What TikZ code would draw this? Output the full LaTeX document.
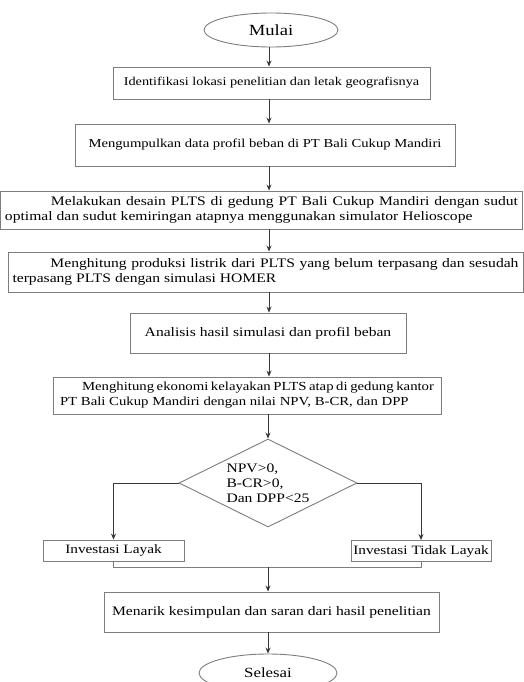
\documentclass[tikz,border=0pt]{standalone}
\usepackage{fontspec}
\setmainfont{Liberation Serif}[FakeStretch=1.2]
\usetikzlibrary{positioning}
\usetikzlibrary{arrows.meta}
\usetikzlibrary{shapes.geometric}
\definecolor{boxgray}{RGB}{125,125,125}
\definecolor{linegray}{RGB}{55,55,55}

\tikzset{
  stepbox/.style={draw=boxgray, line width=0.9pt, rectangle, inner sep=0pt},
  terminal/.style={draw=boxgray, line width=0.9pt, ellipse, inner sep=0pt},
  decision/.style={draw=boxgray, line width=0.9pt, diamond, shape aspect=2, inner sep=-3pt},
  arr/.style={draw=linegray, line width=0.9pt, -{Stealth[length=6pt,width=5pt]}},
  link/.style={draw=boxgray, line width=0.9pt},
  fsize/.style={font=\fontsize{#1}{15}\selectfont},
}

\begin{document}
\begin{tikzpicture}[x=1pt, y=-1pt, fsize=13]
    \useasboundingbox (0,0) rectangle (524,682);
    % column of the main arrows
    \coordinate (ax) at (269,0);

    % Start
    \node[terminal, fsize=15.5, minimum width=134pt, minimum height=34pt] (mulai) at (271,30) {Mulai};

    % Steps
    \node[stepbox, fsize=11.9, minimum width=317pt, minimum height=32pt] (s1) at (271.5,83)
        {Identifikasi lokasi penelitian dan letak geografisnya};
    \node[stepbox, fsize=12.2, minimum width=380pt, minimum height=42pt] (s2) at (265,145)
        {Mengumpulkan data profil beban di PT Bali Cukup Mandiri};
    \node[stepbox, minimum width=522pt, minimum height=38pt, text width=513pt, align=justify] (s3) at (261.5,210)
        {\parfillskip=0pt\hspace*{46pt}Melakukan desain PLTS di gedung PT Bali Cukup Mandiri dengan sudut\linebreak
         optimal dan sudut kemiringan atapnya menggunakan simulator Helioscope};
    \node[stepbox, minimum width=515pt, minimum height=40pt, text width=506pt, align=justify] (s4) at (265.5,272)
        {\hspace*{38pt}Menghitung produksi listrik dari PLTS yang belum terpasang dan sesudah\linebreak
         terpasang PLTS dengan simulasi HOMER};
    \node[stepbox, minimum width=276pt, minimum height=40pt] (s5) at (268,333)
        {Analisis hasil simulasi dan profil beban};
    \node[stepbox, fsize=12.3, minimum width=388pt, minimum height=37pt, text width=374pt, align=justify] (s6) at (247,395.5)
        {\hspace*{22pt}Menghitung ekonomi kelayakan PLTS atap di gedung kantor\linebreak
         PT Bali Cukup Mandiri dengan nilai NPV, B-CR, dan DPP};

    % Decision
    \node[decision, minimum width=178pt, minimum height=88pt, align=left] (cek) at (268,483)
        {NPV>0,\\B-CR>0,\\Dan DPP<25};
    \node[stepbox, fsize=12.75, minimum width=141pt, minimum height=21pt] (layak) at (113.5,550.5) {Investasi Layak};
    \node[stepbox, fsize=12.75, minimum width=140pt, minimum height=21pt] (tlayak) at (421,551) {Investasi Tidak Layak};
    \coordinate (gabung) at (268,567);

    % Conclusion and end
    \node[stepbox, minimum width=335pt, minimum height=40pt] (s7) at (271.5,612)
        {Menarik kesimpulan dan saran dari hasil penelitian};
    \node[terminal, fsize=14, minimum width=138pt, minimum height=38pt] (selesai) at (268,673) {Selesai};

    % Connectors
    \draw[arr] (mulai.south -| ax) -- (s1.north -| ax);
    \draw[arr] (s1.south -| ax) -- (s2.north -| ax);
    \draw[arr] (s2.south -| ax) -- (s3.north -| ax);
    \draw[arr] (s3.south -| ax) -- (s4.north -| ax);
    \draw[arr] (s4.south -| ax) -- (s5.north -| ax);
    \draw[arr] (s5.south -| ax) -- (s6.north -| ax);
    \draw[arr] (s6.south -| cek) -- (cek.north);
    \draw[arr] (cek.west) -| (layak.north);
    \draw[arr] (cek.east) -| (tlayak.north);
    \draw[link] (layak.south) |- (gabung);
    \draw[link] (tlayak.south) |- (gabung);
    \draw[arr] (gabung) -- (s7.north -| gabung);
    \draw[arr] (s7.south -| gabung) -- (selesai.north);
\end{tikzpicture}
\end{document}
